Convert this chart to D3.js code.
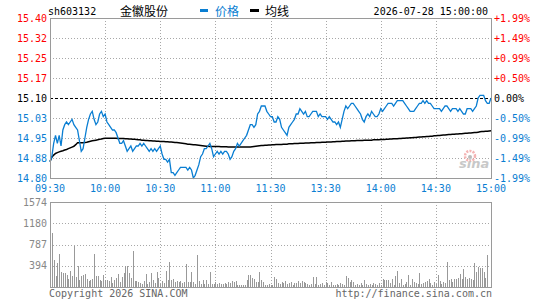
<!DOCTYPE html>
<html>
<head>
<meta charset="utf-8" />
<title>sh603132 金徽股份</title>
<script src="https://cdn.jsdelivr.net/npm/d3@7"></script>
<style>
    body { margin:0; background:#fff; }
    svg text { font-family: "DejaVu Sans Mono", monospace; font-size:10px; }
    svg text.cjk { font-family: "Noto Sans CJK SC", sans-serif; font-size:12px; }
</style>
</head>
<body>
<svg id="chart" width="545" height="300"></svg>
<script>
var prevClose = 15.10;
var timeLabels = ["09:30","10:00","10:30","11:00","11:30","13:30","14:00","14:30","15:00"];
var timeTicks = [0,30,60,90,120,150,180,210,240];
var priceTicks = [15.40,15.325,15.25,15.175,15.10,15.025,14.95,14.875,14.80];
var priceLabels = ["15.40","15.32","15.25","15.17","15.10","15.03","14.95","14.88","14.80"];
var pctLabels = ["+1.99%","+1.49%","+0.99%","+0.50%","0.00%","-0.50%","-0.99%","-1.49%","-1.99%"];
var volTicks = [394,787,1180,1574];

// minute prices 09:30-11:30, 13:00-15:00
var price = [
14.86,14.88,14.93,14.96,14.93,14.96,14.92,14.98,15.00,15.01,
15.00,15.01,15.02,15.00,14.99,14.98,14.94,14.90,14.91,14.95,
14.99,15.02,15.04,15.05,15.02,15.00,15.01,15.04,15.05,15.03,
15.04,15.01,15.00,14.99,14.98,14.98,14.97,14.95,14.93,14.93,
14.94,14.92,14.90,14.91,14.92,14.90,14.91,14.92,14.92,14.93,
14.92,14.93,14.92,14.91,14.90,14.91,14.90,14.91,14.90,14.91,
14.92,14.89,14.87,14.87,14.86,14.87,14.82,14.82,14.81,14.82,
14.83,14.84,14.84,14.84,14.84,14.83,14.84,14.83,14.80,14.81,
14.83,14.85,14.88,14.89,14.91,14.91,14.92,14.93,14.91,14.88,
14.89,14.90,14.89,14.90,14.89,14.90,14.90,14.89,14.87,14.88,
14.90,14.91,14.93,14.92,14.93,14.94,14.95,14.96,14.98,15.00,
15.00,14.99,15.00,15.04,15.05,15.07,15.07,15.07,15.05,15.04,
15.03,15.03,15.01,15.01,15.03,15.02,14.99,14.98,14.97,14.96,
14.99,15.00,15.01,15.02,15.04,15.04,15.06,15.05,15.04,15.05,
15.03,15.03,15.04,15.05,15.05,15.05,15.03,15.04,15.03,15.03,
15.03,15.02,15.03,15.02,15.01,15.01,15.00,15.01,14.99,15.02,
15.05,15.07,15.06,15.07,15.08,15.08,15.07,15.06,15.05,15.04,
15.02,15.01,15.03,15.04,15.03,15.05,15.04,15.03,15.03,15.04,
15.06,15.05,15.06,15.07,15.08,15.08,15.08,15.07,15.08,15.09,
15.09,15.09,15.09,15.08,15.07,15.06,15.05,15.05,15.05,15.06,
15.07,15.08,15.08,15.09,15.08,15.09,15.08,15.08,15.07,15.06,
15.06,15.06,15.06,15.05,15.06,15.07,15.07,15.06,15.05,15.06,
15.06,15.06,15.05,15.06,15.05,15.04,15.04,15.06,15.06,15.06,
15.05,15.06,15.07,15.10,15.11,15.11,15.11,15.09,15.08,15.08,
15.10
];

var avgPrice = [
14.862,14.878,14.886,14.892,14.895,14.898,14.900,14.902,14.905,14.907,
14.910,14.913,14.916,14.919,14.925,14.932,14.932,14.932,14.932,14.933,
14.934,14.936,14.938,14.940,14.941,14.942,14.943,14.945,14.946,14.948,
14.949,14.949,14.949,14.949,14.949,14.949,14.949,14.948,14.948,14.948,
14.948,14.947,14.947,14.946,14.946,14.945,14.945,14.944,14.943,14.943,
14.942,14.942,14.941,14.941,14.940,14.940,14.939,14.939,14.938,14.938,
14.937,14.937,14.937,14.936,14.936,14.935,14.935,14.934,14.933,14.933,
14.932,14.931,14.930,14.929,14.928,14.927,14.927,14.926,14.925,14.925,
14.924,14.923,14.922,14.921,14.920,14.919,14.919,14.918,14.918,14.918,
14.918,14.918,14.918,14.917,14.917,14.917,14.917,14.916,14.916,14.916,
14.916,14.916,14.916,14.916,14.916,14.916,14.916,14.916,14.916,14.916,
14.917,14.918,14.919,14.920,14.921,14.922,14.922,14.923,14.923,14.924,
14.924,14.925,14.925,14.926,14.926,14.926,14.926,14.927,14.927,14.927,
14.928,14.928,14.928,14.929,14.929,14.929,14.930,14.930,14.930,14.931,
14.931,14.931,14.932,14.932,14.932,14.933,14.933,14.933,14.934,14.934,
14.934,14.935,14.935,14.935,14.936,14.936,14.937,14.937,14.937,14.938,
14.938,14.939,14.939,14.939,14.940,14.940,14.940,14.941,14.941,14.941,
14.941,14.942,14.942,14.942,14.942,14.942,14.943,14.943,14.943,14.943,
14.944,14.944,14.944,14.945,14.945,14.946,14.946,14.947,14.947,14.947,
14.948,14.948,14.949,14.949,14.950,14.950,14.951,14.951,14.952,14.952,
14.953,14.954,14.954,14.955,14.955,14.956,14.956,14.957,14.957,14.958,
14.958,14.959,14.959,14.960,14.961,14.961,14.962,14.963,14.963,14.964,
14.964,14.965,14.965,14.966,14.966,14.967,14.968,14.968,14.969,14.969,
14.970,14.971,14.971,14.972,14.973,14.974,14.974,14.975,14.975,14.976,
14.977
];

var volume = [
145,995,504,208,453,617,283,252,252,220,
157,296,208,755,189,384,126,208,227,233,
145,107,126,145,617,208,208,126,107,220,
126,126,107,189,82,126,170,233,94,189,
252,390,397,252,170,661,107,107,94,82,
63,107,233,63,94,252,126,82,271,170,
63,107,82,302,126,472,126,139,94,107,
94,107,82,94,422,94,94,283,94,63,
598,107,63,126,63,126,63,271,63,63,
94,63,82,63,63,82,63,94,82,107,
94,107,31,31,31,31,44,126,220,220,
170,145,94,94,283,126,94,44,44,63,
31,31,189,145,82,63,94,82,107,63,
82,94,44,82,82,107,82,107,94,82,
63,31,63,189,63,189,44,63,82,44,
94,82,44,94,31,44,63,31,82,63,
31,208,170,94,126,94,44,63,44,82,
44,126,63,44,63,44,82,63,44,82,
44,145,126,126,126,82,145,44,208,296,
82,145,44,63,94,220,31,145,94,82,
63,264,63,82,94,107,145,82,44,94,
63,220,107,63,94,82,472,126,145,94,
145,145,170,233,145,334,189,145,170,145,
126,453,283,378,359,346,283,170,585,0,
0
];

var svg = d3.select("#chart");
var left = 50, right = 491;
var mainTop = 18, mainBottom = 178;
var volTop = 202, volBottom = 287;
var blue = "#0a7ed2", red = "#ff0000", gridColor = "#a8a8a8", frameColor = "#9a9a9a";

var x = d3.scaleLinear().domain([0, 240]).range([left, right]);
var y = d3.scaleLinear().domain([14.80, 15.40]).range([mainBottom, mainTop]);
var yv = d3.scaleLinear().domain([0, 1574]).range([volBottom, volTop]);

function labelColor(v) {
    if (Math.abs(v - prevClose) < 0.001) return "#000";
    return v > prevClose ? red : blue;
}

// header
svg.append("text").attr("x", 48).attr("y", 15).text("sh603132");
svg.append("text").attr("class", "cjk").attr("x", 120).attr("y", 16).text("金徽股份");
svg.append("rect").attr("x", 200).attr("y", 9).attr("width", 8).attr("height", 3).attr("fill", blue);
svg.append("text").attr("class", "cjk").attr("x", 215).attr("y", 16).attr("fill", blue).text("价格");
svg.append("rect").attr("x", 250).attr("y", 9).attr("width", 9).attr("height", 3).attr("fill", "#000");
svg.append("text").attr("class", "cjk").attr("x", 265).attr("y", 16).text("均线");
svg.append("text").attr("x", 488).attr("y", 15).attr("text-anchor", "end").text("2026-07-28 15:00:00");

// main panel grid
var grid = svg.append("g").attr("shape-rendering", "crispEdges");
grid.selectAll(".hgrid").data(priceTicks.slice(1, -1)).enter().append("line")
    .attr("x1", left).attr("x2", right)
    .attr("y1", function(d) { return Math.round(y(d)) + 0.5; })
    .attr("y2", function(d) { return Math.round(y(d)) + 0.5; })
    .attr("stroke", function(d) { return Math.abs(d - prevClose) < 0.001 ? "#000" : gridColor; })
    .attr("stroke-dasharray", function(d) { return Math.abs(d - prevClose) < 0.001 ? "3,2" : "1,2"; });
grid.selectAll(".vgrid").data(timeTicks.slice(1, -1)).enter().append("line")
    .attr("y1", mainTop).attr("y2", mainBottom)
    .attr("x1", function(d) { return Math.round(x(d)) + 0.5; })
    .attr("x2", function(d) { return Math.round(x(d)) + 0.5; })
    .attr("stroke", gridColor).attr("stroke-dasharray", "1,2");

// volume panel grid
grid.selectAll(".vhgrid").data(volTicks.slice(0, -1)).enter().append("line")
    .attr("x1", left).attr("x2", right)
    .attr("y1", function(d) { return Math.round(yv(d)) + 0.5; })
    .attr("y2", function(d) { return Math.round(yv(d)) + 0.5; })
    .attr("stroke", gridColor).attr("stroke-dasharray", "1,2");
grid.selectAll(".vvgrid").data(timeTicks.slice(1, -1)).enter().append("line")
    .attr("y1", volTop).attr("y2", volBottom)
    .attr("x1", function(d) { return Math.round(x(d)) + 0.5; })
    .attr("x2", function(d) { return Math.round(x(d)) + 0.5; })
    .attr("stroke", gridColor).attr("stroke-dasharray", "1,2");

// watermark
var logo = svg.append("g").attr("transform", "translate(458,150)");
logo.append("circle").attr("cx", 12).attr("cy", 6).attr("r", 5).attr("fill", "none")
    .attr("stroke", "#f4b4b4").attr("stroke-width", 2.5).attr("stroke-dasharray", "2,1.2");
logo.append("circle").attr("cx", 12).attr("cy", 7).attr("r", 2).attr("fill", "#bbb");
logo.append("text").attr("x", 1).attr("y", 18).attr("fill", "#c8c8c8")
    .style("font-family", "DejaVu Sans").style("font-style", "italic").style("font-weight", "bold")
    .style("font-size", "13px").text("sina");

// volume bars
svg.append("g").attr("shape-rendering", "crispEdges").selectAll("rect").data(volume).enter().append("rect")
    .attr("x", function(d, i) { return Math.round(x(i)); })
    .attr("y", function(d) { return yv(d); })
    .attr("width", 1)
    .attr("height", function(d) { return volBottom - yv(d); })
    .attr("fill", "#999");

// lines
var line = d3.line().x(function(d, i) { return x(i); }).y(function(d) { return y(d); });
svg.append("path").datum(avgPrice).attr("d", line).attr("fill", "none")
    .attr("stroke", "#000").attr("stroke-width", 1.5);
svg.append("path").datum(price).attr("d", line).attr("fill", "none")
    .attr("stroke", blue).attr("stroke-width", 1.3).attr("stroke-linejoin", "miter");

// frames
svg.append("rect").attr("x", left + 0.5).attr("y", mainTop + 0.5)
    .attr("width", right - left).attr("height", mainBottom - mainTop)
    .attr("fill", "none").attr("stroke", frameColor).attr("shape-rendering", "crispEdges");
svg.append("rect").attr("x", left + 0.5).attr("y", volTop + 0.5)
    .attr("width", right - left).attr("height", volBottom - volTop)
    .attr("fill", "none").attr("stroke", frameColor).attr("shape-rendering", "crispEdges");

// axis labels
svg.selectAll(".lbl").data(priceTicks).enter().append("text")
    .attr("x", 47).attr("y", function(d) { return y(d) + 3.5; })
    .attr("text-anchor", "end").attr("fill", labelColor)
    .text(function(d, i) { return priceLabels[i]; });
svg.selectAll(".pct").data(priceTicks).enter().append("text")
    .attr("x", 494).attr("y", function(d) { return y(d) + 3.5; })
    .attr("fill", labelColor)
    .text(function(d, i) { return pctLabels[i]; });
svg.selectAll(".tlbl").data(timeTicks).enter().append("text")
    .attr("x", function(d) { return x(d); }).attr("y", 192)
    .attr("text-anchor", "middle").attr("fill", blue)
    .text(function(d, i) { return timeLabels[i]; });
svg.selectAll(".vlbl").data(volTicks).enter().append("text")
    .attr("x", 47).attr("y", function(d) { return yv(d) + 3.5; })
    .attr("text-anchor", "end").attr("fill", "#888")
    .text(function(d) { return d; });

// footer
svg.append("text").attr("x", 49).attr("y", 297).attr("fill", "#666").text("Copyright 2026 SINA.COM");
svg.append("text").attr("x", 492).attr("y", 297).attr("text-anchor", "end").attr("fill", "#666")
    .text("http://finance.sina.com.cn");
</script>
</body>
</html>
